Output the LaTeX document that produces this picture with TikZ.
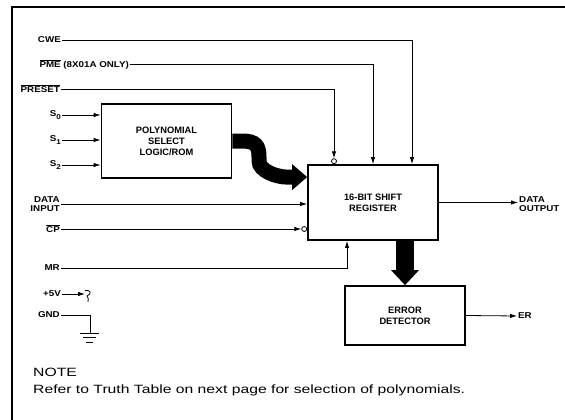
\documentclass[tikz,border=0pt]{standalone}
\usepackage{fontspec}
\setmainfont{Liberation Sans}
\newfontfamily\lblfont{Liberation Sans}[FakeStretch=1.15]
\newfontfamily\notefont{Liberation Sans}[FakeStretch=1.31]
\usetikzlibrary{arrows.meta,calc}

\newcommand{\sub}[1]{\raisebox{-2.2pt}{\fontsize{7}{8}\selectfont #1}}

\tikzset{
  lbl/.style={anchor=east, inner sep=1pt, align=right, font=\lblfont\fontsize{8.5}{9.5}\selectfont\bfseries},
  blk/.style={draw, line width=1.8pt, align=center, font=\fontsize{9.3}{11}\selectfont\bfseries},
  sig/.style={line width=0.8pt},
  arr/.style={sig, -{Latex[length=7pt,width=4.5pt]}},
  bub/.style={circle, draw, line width=0.8pt, inner sep=0pt, minimum size=5pt},
  bus/.style={line width=15pt},
}

\begin{document}
\begin{tikzpicture}[x=1pt,y=-1pt]
    \useasboundingbox (0,0) rectangle (565,420);

    % Rahmen
    \draw[line width=1.6pt] (12,420) -- (12,7) -- (565,7);

    % Bloecke
    \node[blk, minimum width=130pt, minimum height=74pt] (poly) at (166.5,141) {POLYNOMIAL\\SELECT\\LOGIC/ROM};
    \node[blk, minimum width=130pt, minimum height=75pt] (reg) at (373,202.5) {16-BIT SHIFT\\REGISTER};
    \node[blk, minimum width=120pt, minimum height=59pt] (err) at (405,315.5) {ERROR\\DETECTOR};

    % Eingaenge links
    \node[lbl] (cwe) at (62,40) {CWE};
    \node[lbl] (pme) at (130,64) {\(\overline{\mbox{PME}}\) (8X01A ONLY)};
    \node[lbl] (preset) at (61,89) {\(\overline{\mbox{PRESET}}\)};
    \foreach \i/\y in {0/115, 1/140, 2/165} {
        \node[lbl] (s\i) at (62,\y) {S\sub{\i}};
        \draw[arr] (s\i.east) -- (poly.west |- s\i.east);
    }
    \node[lbl] (din) at (61,204) {DATA\\INPUT};
    \node[lbl] (cp) at (61,229) {\(\overline{\mbox{CP}}\)};
    \node[lbl] (mr) at (61,268) {MR};
    \node[lbl] (p5) at (62,294) {+5V};
    \node[lbl] (gnd) at (61,315) {GND};

    % Ausgaenge rechts
    \node[lbl, anchor=west, align=left] (dout) at (518,204) {DATA\\OUTPUT};
    \node[lbl, anchor=west] (er) at (517,316) {ER};

    % Hilfspunkte
    \coordinate (cweX) at (412,0);
    \coordinate (preX) at (334,0);
    \coordinate (mrX) at (347,0);

    % Leitungen oben
    \draw[arr] (cwe.east) -| (reg.north -| cweX);
    \draw[arr] (pme.east) -| (reg.north);
    \node[bub, anchor=south] (preb) at (reg.north -| preX) {};
    \draw[arr] (preset.east) -| (preb.north);

    % Leitungen links
    \draw[arr] (din.east) -- (reg.west |- din.east);
    \node[bub, anchor=east] (cpb) at (reg.west |- cp.east) {};
    \draw[arr] (cp.east) -- (cpb.west);
    \draw[arr] (mr.east) -| (reg.south -| mrX);

    % Leitungen rechts
    \draw[arr] (reg.east) -- (dout.west |- reg.east);
    \draw[arr] (err.east) -- (er.west);

    % Bus Polynom -> Register
    \coordinate (busTip) at ($(reg.north west)+(0,13)$);
    \draw[bus] (poly.east) -- (242,141) .. controls (256,141) and (259,146) .. (259,157)
        -- (259,161) .. controls (259,171) and (277,177.1) .. (287,177.1) -- ($(busTip)+(-14,0)$);
    \fill ($(busTip)+(-15,-13)$) -- (busTip) -- ($(busTip)+(-15,13)$) -- cycle;

    % Bus Register -> Fehlerdetektor
    \draw[line width=18pt] (reg.south -| err.north) -- ($(err.north)+(0,-15)$);
    \fill ($(err.north)+(-14,-15)$) -- (err.north) -- ($(err.north)+(14,-15)$) -- cycle;

    % Versorgung
    \coordinate (jack) at (85,294);
    \draw[arr] (p5.east) -- (jack);
    \draw[sig] (85,290.5) .. controls (91,289.5) and (92,294) .. (87,296)
        .. controls (88,298) and (89,299) .. (88,302);
    \coordinate (gndX) at (90,333);
    \draw[sig] (gnd.east) -| (gndX);
    \draw[line width=1pt] (80,333) -- (99,333);
    \draw[line width=1pt] (83,337.5) -- (96,337.5);
    \draw[line width=1pt] (86,342) -- (93,342);

    % Anmerkung
    \node[anchor=west, inner sep=0pt, font=\notefont\fontsize{12}{14}\selectfont] (note) at (33,372) {NOTE};
    \node[anchor=west, inner sep=0pt, font=\notefont\fontsize{12}{14}\selectfont] (refer) at (33,390) {Refer to Truth Table on next page for selection of polynomials.};

\end{tikzpicture}
\end{document}
